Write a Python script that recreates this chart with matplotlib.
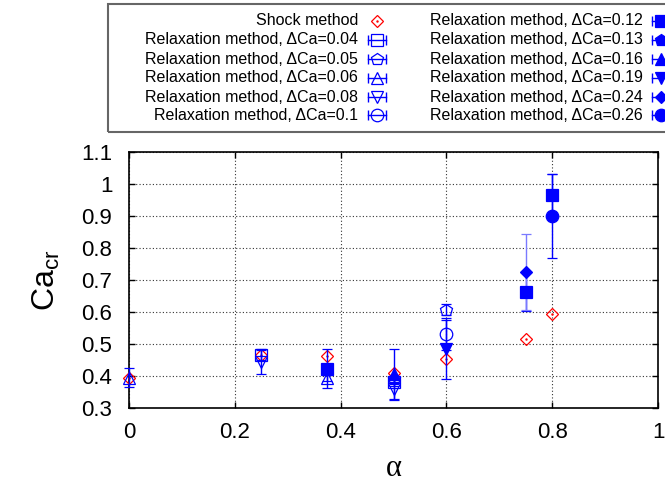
import matplotlib
matplotlib.use("Agg")
import matplotlib.pyplot as plt
from matplotlib.lines import Line2D
from matplotlib.patches import Rectangle

plt.rcParams['font.family'] = ['Liberation Sans', 'DejaVu Sans']

# ---- data ----
shock_x = [0.0, 0.25, 0.375, 0.5, 0.6, 0.75, 0.8]
shock_y = [0.393, 0.466, 0.462, 0.41, 0.452, 0.517, 0.594]

dca_labels = ["0.04", "0.05", "0.06", "0.08", "0.1", "0.12", "0.13", "0.16", "0.19", "0.24", "0.26"]
relax_x = [
    [0.25, 0.5],
    [0.5, 0.6],
    [0.0, 0.375],
    [0.25, 0.5],
    [0.6],
    [0.375, 0.75, 0.8],
    [],
    [0.5],
    [0.6],
    [0.75],
    [0.8],
]
relax_y = [
    [0.465, 0.38],
    [0.39, 0.607],
    [0.395, 0.393],
    [0.445, 0.36],
    [0.532],
    [0.423, 0.664, 0.967],
    [],
    [0.405],
    [0.483],
    [0.725],
    [0.90],
]
relax_err = [
    [0.015, 0.012],
    [0.01, 0.017],
    [0.03, 0.01],
    [0.04, 0.035],
    [0.05],
    [0.06, 0.06, 0.065],
    [],
    [0.078],
    [0.093],
    [0.12],
    [0.13],
]

xticks = [0, 0.2, 0.4, 0.6, 0.8, 1]
xticklabels = ["0", "0.2", "0.4", "0.6", "0.8", "1"]
yticks = [0.3, 0.4, 0.5, 0.6, 0.7, 0.8, 0.9, 1.0, 1.1]
yticklabels = ["0.3", "0.4", "0.5", "0.6", "0.7", "0.8", "0.9", "1", "1.1"]

# ---- styles ----
BLUE = '#0000ff'
RED = '#ff0000'
markers = ['s', 'p', '^', 'v', 'o', 's', 'p', '^', 'v', 'D', 'o']
filled = [False] * 5 + [True] * 6
msizes = [8.5, 9, 8.5, 8.5, 9, 9, 9, 8.5, 8.5, 6.5, 9]
ecolors = [BLUE] * 9 + ['#7a7aff', BLUE]

W, H = 665, 483
fig = plt.figure(figsize=(W / 100, H / 100), dpi=100)
ax = fig.add_axes([129 / W, 1 - 408 / H, (658 - 129) / W, (408 - 152) / H])

# shock method
ax.plot(shock_x, shock_y, linestyle='none', marker='D', ms=6.3, mfc='none',
        mec=RED, mew=0.9, clip_on=False, zorder=3)
ax.plot(shock_x, shock_y, linestyle='none', marker='.', ms=1.5, color=RED,
        clip_on=False, zorder=3)

for i in range(len(dca_labels)):
    if not relax_x[i]:
        continue
    cont = ax.errorbar(relax_x[i], relax_y[i], yerr=relax_err[i], fmt=markers[i],
                       ms=msizes[i], mfc=BLUE if filled[i] else 'none', mec=BLUE,
                       mew=0.9, color=BLUE, ecolor=ecolors[i], elinewidth=1.0,
                       capsize=3.5, capthick=1.0, zorder=4)
    for art in cont.get_children():
        art.set_clip_on(False)

ax.set_xlim(0, 1)
ax.set_ylim(0.3, 1.1)
ax.set_xticks(xticks)
ax.set_xticklabels(xticklabels)
ax.set_yticks(yticks)
ax.set_yticklabels(yticklabels)
ax.tick_params(direction='in', length=4.5, width=1, top=True, right=True,
               labelsize=16, pad=10)
ax.tick_params(axis='y', pad=12)
ax.grid(True, linestyle=(0, (1, 2)), color='#333333', linewidth=0.8)
for sp in ax.spines.values():
    sp.set_linewidth(1.2)

ax.set_ylabel(r'$\mathregular{Ca_{cr}}$', fontsize=23, labelpad=14)
ax.set_xlabel('α', fontsize=22, family=['Liberation Serif', 'DejaVu Serif'], labelpad=8)

# ---- legend (gnuplot style: right-aligned text, sample to the right) ----
def fx(px):
    return px / W

def fy(py):
    return 1 - py / H

fig.add_artist(Rectangle((fx(108), fy(132)), fx(700 - 108), (132 - 4) / H,
                         transform=fig.transFigure, fill=False,
                         edgecolor='#666666', linewidth=1.5))

rows_y = [20.7, 40, 59, 78, 97, 115]
entries = [("Shock method", 'D', RED, False, 6.3, False)]
for i, lab in enumerate(dca_labels):
    entries.append(("Relaxation method, ΔCa=" + lab, markers[i], BLUE, filled[i],
                    msizes[i], True))

for k, (lab, mk, col, fl, ms, has_err) in enumerate(entries):
    colidx = k // 6
    r = k % 6
    ty = rows_y[r]
    tx = 358 if colidx == 0 else 643
    mx = 377 if colidx == 0 else 661
    fig.text(fx(tx), fy(ty), lab, ha='right', va='center', fontsize=11.5)
    if has_err:
        fig.add_artist(Line2D([fx(mx - 9), fx(mx + 9)], [fy(ty), fy(ty)],
                              transform=fig.transFigure, color=col, lw=1.0))
        fig.add_artist(Line2D([fx(mx - 9), fx(mx + 9)], [fy(ty), fy(ty)],
                              transform=fig.transFigure, color=col, lw=0,
                              marker='|', ms=7, mew=1.0))
    fig.add_artist(Line2D([fx(mx)], [fy(ty)], transform=fig.transFigure,
                          marker=mk, ms=ms, mfc=col if fl else 'none', mec=col,
                          mew=0.9, linestyle='none'))
    if not has_err:
        fig.add_artist(Line2D([fx(mx)], [fy(ty)], transform=fig.transFigure,
                              marker='.', ms=1.5, color=col, linestyle='none'))

fig.savefig('out.png', dpi=100)
